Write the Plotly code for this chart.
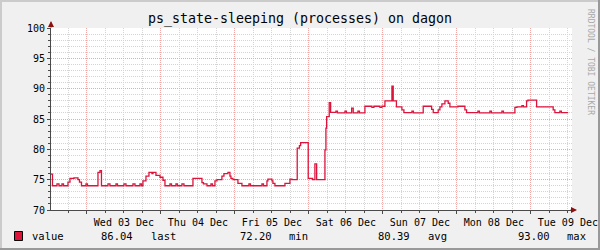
import pandas as pd
import plotly.graph_objects as go

# ---------------- data ----------------
start = pd.Timestamp("2025-12-02 12:00")
hours = [0.32, 0.81, 2.27, 2.92, 3.89, 4.38, 5.84, 6.49, 7.78, 9.08, 9.57, 10.22, 11.68, 12.16,
         15.57, 16.22, 16.70, 18.81, 19.46, 21.41, 21.89, 24.0, 24.65, 26.92, 27.57, 29.19, 29.68,
         30.16, 31.14, 32.11, 33.08, 33.41, 34.38, 35.68, 36.65, 37.30, 38.92, 39.41, 40.86, 41.35,
         42.81, 43.46, 46.38, 49.30, 49.78, 50.92, 52.22, 52.70, 53.51, 54.16, 55.78, 56.43, 57.73,
         58.38, 58.70, 59.35, 60.97, 62.27, 64.54, 65.03, 68.76, 69.24, 70.38, 70.70, 72.0, 72.32,
         72.97, 76.22, 77.84, 78.49, 80.20, 80.92, 81.31, 83.77, 85.20, 85.94, 86.50, 89.19, 89.51,
         89.74, 90.58, 91.04, 92.76, 93.24, 95.68, 96.16, 97.85, 98.37, 99.89, 100.38, 102.16,
         104.43, 105.08, 107.03, 107.68, 108.65, 110.92, 111.34, 112.38, 114.16, 114.81, 117.41,
         117.89, 121.07, 123.80, 124.32, 125.93, 126.49, 127.13, 128.11, 129.18, 129.73, 132.32,
         134.59, 135.14, 138.81, 139.30, 142.70, 143.19, 146.59, 147.08, 150.81, 151.46, 153.08,
         153.57, 154.60, 155.03, 157.85, 163.23, 163.78, 165.4, 165.89, 168.1]
values = [75.9, 74.0, 74.3, 74.0, 74.3, 74.0, 74.6, 75.2, 75.3, 75.0, 74.6, 74.0, 74.3, 74.0,
          76.2, 76.5, 74.0, 74.3, 74.0, 74.3, 74.0, 74.3, 74.0, 74.3, 74.0, 74.3, 74.0,
          74.8, 75.6, 76.2, 76.0, 76.2, 75.7, 75.4, 74.9, 74.0, 74.3, 74.0, 74.3, 74.0,
          74.3, 74.0, 75.2, 74.5, 74.3, 74.0, 74.3, 74.0, 74.8, 75.0, 75.6, 76.0, 76.2,
          75.6, 75.2, 75.0, 74.4, 74.0, 74.3, 74.0, 74.3, 74.0, 74.8, 75.1, 74.8, 74.4,
          74.0, 74.4, 75.1, 75.0, 80.2, 80.6, 81.1, 75.2, 75.0, 77.6, 75.0, 79.9, 83.5,
          85.4, 87.7, 86.1, 86.3, 86.0, 86.3, 86.0, 86.8, 86.0, 86.3, 86.0, 87.1,
          86.9, 87.1, 86.9, 87.1, 88.0, 90.4, 88.0, 87.0, 86.5, 86.04, 86.3,
          86.0, 87.1, 86.6, 86.04, 86.5, 87.0, 87.5, 88.0, 87.6, 87.0, 87.1,
          86.5, 86.04, 86.3, 86.0, 86.3, 86.0, 86.3, 86.0, 86.9, 87.0, 87.2,
          87.0, 88.0, 88.1, 87.0, 86.5, 86.04, 86.3, 86.04, 86.04]
times = start + pd.to_timedelta(hours, unit="h")

title = "ps_state-sleeping (processes) on dagon"
series_name = "value"
stat_values = ["86.04", "72.20", "80.39", "93.00"]
stat_labels = ["last", "min", "avg", "max"]
range_start = "2025-12-02 12:20"
range_end = "2025-12-09 13:20"

# ---------------- styling ----------------
FONT = "DejaVu Sans Mono"
LINE = "#dc143c"
MGRID = "#f2a6a6"
GRID = "#d4d4d4"
AXIS = "#4a4a4a"
W, H = 600, 250
L, R, T, B = 51, 28, 28, 40
PW, PH = W - L - R, H - T - B


def px(x):
    return (x - L) / PW


def py(y):
    return (H - B - y) / PH


fig = go.Figure()
fig.add_trace(go.Scatter(x=times, y=values, mode="lines", line=dict(color=LINE, width=1.3, shape="hv"),
                         showlegend=False, hoverinfo="skip"))

fig.update_layout(
    width=W, height=H,
    margin=dict(l=L, r=R, t=T, b=B, autoexpand=False),
    paper_bgcolor="#f0f0f0", plot_bgcolor="#ffffff",
    font=dict(family=FONT, size=10, color="#000000"),
    title=dict(text=title, x=0.5, xref="container", xanchor="center", y=1 - 18 / H, yref="container",
               yanchor="middle", font=dict(family=FONT, size=13.3, color="#000000")),
    showlegend=False,
)

fig.update_xaxes(
    type="date", range=[range_start, range_end],
    tick0="2025-12-03", dtick=86400000, ticklabelmode="period", tickformat="%a %d %b",
    showgrid=True, gridcolor=MGRID, griddash="1px,1px", gridwidth=1,
    ticks="outside", ticklen=3, tickcolor=AXIS,
    minor=dict(dtick=6 * 3600000, tick0="2025-12-03", showgrid=True, gridcolor=GRID, griddash="1px,1px",
               ticks="outside", ticklen=2, tickcolor=AXIS),
    showline=True, linecolor=AXIS, linewidth=1, zeroline=False,
    tickfont=dict(family=FONT, size=10, color="#000000"),
)
fig.update_yaxes(
    range=[70, 100], dtick=5, tick0=70,
    showgrid=True, gridcolor=MGRID, griddash="1px,1px", gridwidth=1,
    ticks="outside", ticklen=3, tickcolor=AXIS,
    minor=dict(dtick=1, showgrid=True, gridcolor=GRID, griddash="1px,1px", ticks="outside", ticklen=2,
               tickcolor=AXIS),
    showline=True, linecolor=AXIS, linewidth=1, zeroline=False,
    tickfont=dict(family=FONT, size=10, color="#000000"),
)

# axis arrows
fig.add_annotation(x=0, y=py(21), xref="paper", yref="paper", text="", showarrow=True,
                   ax=0, ay=8, arrowhead=2, arrowsize=1, arrowwidth=1.2, arrowcolor="#8b1010")
fig.add_annotation(x=px(577), y=0, xref="paper", yref="paper", text="", showarrow=True,
                   ax=-8, ay=0, arrowhead=2, arrowsize=1, arrowwidth=1.2, arrowcolor="#8b1010")

# side text
fig.add_annotation(x=px(591), y=py(62), xref="paper", yref="paper", text="RRDTOOL / TOBI OETIKER",
                   textangle=90, showarrow=False, font=dict(family=FONT, size=8, color="#a8a8a8"),
                   xanchor="center", yanchor="middle")

# border shading
shapes = [
    dict(type="rect", xref="paper", yref="paper", x0=px(0), x1=px(2), y0=py(250), y1=py(0),
         fillcolor="#cbcbcb", line=dict(width=0), layer="above"),
    dict(type="rect", xref="paper", yref="paper", x0=px(0), x1=px(600), y0=py(2), y1=py(0),
         fillcolor="#cbcbcb", line=dict(width=0), layer="above"),
    dict(type="rect", xref="paper", yref="paper", x0=px(598), x1=px(600), y0=py(250), y1=py(0),
         fillcolor="#999999", line=dict(width=0), layer="above"),
    dict(type="rect", xref="paper", yref="paper", x0=px(0), x1=px(600), y0=py(250), y1=py(248),
         fillcolor="#999999", line=dict(width=0), layer="above"),
    # legend swatch
    dict(type="rect", xref="paper", yref="paper", x0=px(14.5), x1=px(22.5), y0=py(240.5), y1=py(231.5),
         fillcolor=LINE, line=dict(color="#000000", width=1)),
]
fig.update_layout(shapes=shapes)

# legend row
legend_y = py(236)
fig.add_annotation(x=px(30), y=legend_y, xref="paper", yref="paper", text=series_name, showarrow=False,
                   xanchor="left", yanchor="middle", font=dict(family=FONT, size=10.5))
val_x = [98.5, 237.5, 375.5, 515.5]
lab_x = [148.5, 286.5, 426.0, 564.5]
for v, lab, vx, lx in zip(stat_values, stat_labels, val_x, lab_x):
    fig.add_annotation(x=px(vx), y=legend_y, xref="paper", yref="paper", text=v, showarrow=False,
                       xanchor="left", yanchor="middle", font=dict(family=FONT, size=10.5))
    fig.add_annotation(x=px(lx), y=legend_y, xref="paper", yref="paper", text=lab, showarrow=False,
                       xanchor="left", yanchor="middle", font=dict(family=FONT, size=10.5))

fig.write_html("out.html")
